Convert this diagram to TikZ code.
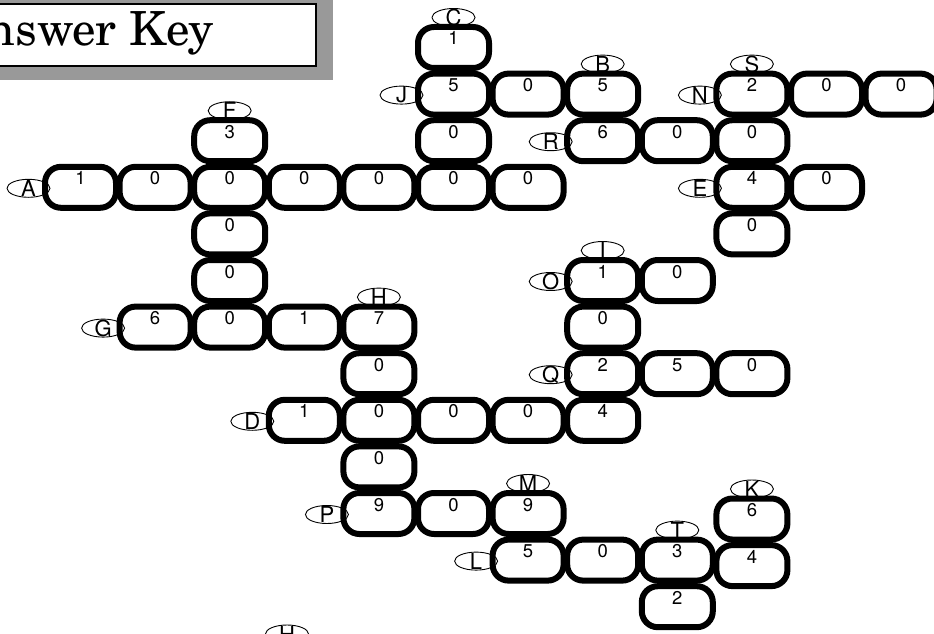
\documentclass[tikz,border=0pt]{standalone}
\usepackage{fontspec}
\setmainfont{TeX Gyre Schola}
\newfontfamily\cellfont{TeX Gyre Heros}
\usetikzlibrary{shapes.geometric}

\begin{document}
\begin{tikzpicture}[x=1pt, y=-1pt,
  cell/.style={draw, line width=6pt, rounded corners=16pt, minimum width=71pt,
    minimum height=41pt, inner sep=0pt, text height=13pt, text depth=18pt,
    font=\cellfont\fontsize{18.5}{18.5}\selectfont},
  tag/.style={ellipse, draw, line width=0.9pt, minimum width=43pt, minimum height=18pt,
    inner sep=0pt, label={[font=\cellfont\fontsize{22}{22}\selectfont]center:#1}}]
  \useasboundingbox (0,0) rectangle (934,634);
  \clip (0,0) rectangle (934,634);
  % title
  \fill[gray!80] (-10,0) rectangle (333,80);
  \draw[line width=2pt, fill=white] (-10,4) rectangle (316,66);
  \node[anchor=base east, inner sep=0pt] (title) at (214,46) {\fontsize{47}{47}\selectfont Answer Key};
  % cells: column/row/digit
  \foreach \c/\r/\d in {5/0/1, 5/1/5, 6/1/0, 7/1/5, 9/1/2, 10/1/0, 11/1/0,
      2/2/3, 5/2/0, 7/2/6, 8/2/0, 9/2/0,
      0/3/1, 1/3/0, 2/3/0, 3/3/0, 4/3/0, 5/3/0, 6/3/0, 9/3/4, 10/3/0,
      2/4/0, 9/4/0, 2/5/0, 7/5/1, 8/5/0,
      1/6/6, 2/6/0, 3/6/1, 4/6/7, 7/6/0,
      4/7/0, 7/7/2, 8/7/5, 9/7/0,
      3/8/1, 4/8/0, 5/8/0, 6/8/0, 7/8/4, 4/9/0,
      4/10/9, 5/10/0, 6/10/9, 6/11/5, 7/11/0, 8/11/3, 8/12/2}
    \node[cell] (n\r-\c) at ({80.5+74.6*\c},{47.5+46.6*\r}) {\d};
  \node[cell] (k1) at ({80.5+74.6*9},{53+46.6*10}) {6};
  \node[cell] (k2) at ({80.5+74.6*9},{53+46.6*11}) {4};
  % letters above
  \foreach \t/\n in {C/n0-5, B/n1-7, S/n1-9, F/n2-2, I/n5-7, H/n6-4, M/n10-6, K/k1, T/n11-8}
    \node[tag=\t] (tag\t) at ([yshift=30pt]\n.center) {};
  % letters to the left
  \foreach \t/\n in {J/n1-5, N/n1-9, R/n2-7, A/n3-0, E/n3-9, O/n5-7, G/n6-1, Q/n7-7, D/n8-3, P/n10-4, L/n11-6}
    \node[tag=\t] (tag\t) at ([xshift=-52pt, yshift=-1pt]\n.center) {};
  \node[tag=H] (tagHb) at (287,634) {};
\end{tikzpicture}
\end{document}
